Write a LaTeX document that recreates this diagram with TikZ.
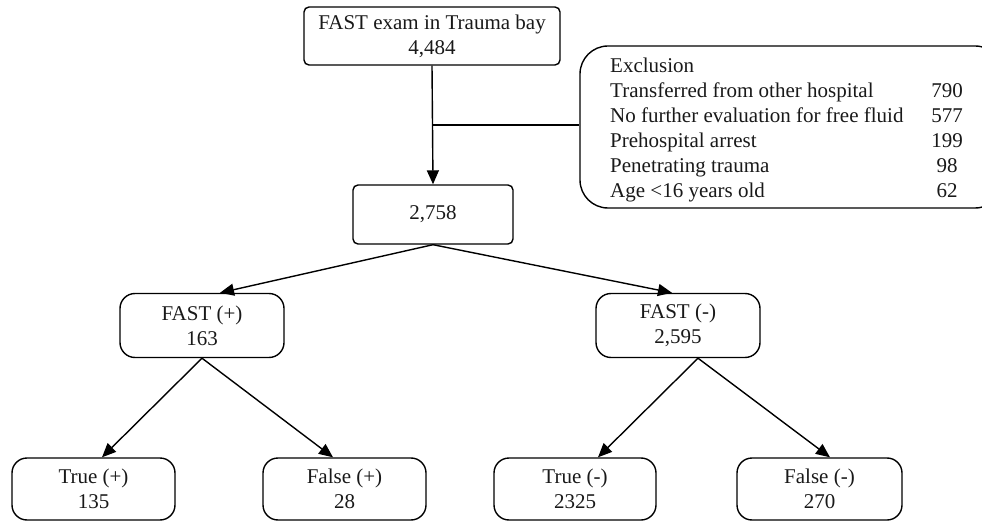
\documentclass[tikz,border=0pt]{standalone}
\usepackage{fontspec}
\setmainfont{Liberation Serif}
\usetikzlibrary{arrows.meta,calc}
\tikzset{
  txt/.style={font=\fontsize{21}{25}\selectfont, text=black!90},
  sbox/.style={draw, line width=1.4pt, rounded corners=5pt, align=center, txt, inner sep=0pt},
  rbox/.style={draw, line width=1.4pt, rounded corners=15pt, align=center, txt, inner sep=0pt},
  conn/.style={line width=1.4pt},
  arr/.style={conn, -{Triangle[length=14pt,width=12pt]}},
  exl/.style={txt, anchor=base west, inner sep=0pt},
  exn/.style={txt, anchor=base, inner sep=0pt}
}
\begin{document}
\begin{tikzpicture}[x=1pt,y=-1pt]
\useasboundingbox (0,0) rectangle (982,521);
% boxes
\node[sbox, minimum width=256pt, minimum height=58pt] (top) at (432,36) {FAST exam in Trauma bay\\4,484};
\node[sbox, minimum width=160pt, minimum height=59pt] (mid) at (433,214.5) {2,758};
\node[draw, line width=1.4pt, rounded corners=28pt, minimum width=423pt, minimum height=162pt, inner sep=0pt] (excl) at (791.5,127) {};
\node[rbox, minimum width=164pt, minimum height=64pt] (fp) at (202,325.5) {FAST (+)\\163};
\node[rbox, minimum width=164pt, minimum height=64pt] (fm) at (678,325.5) {FAST (-)\\2,595};
\node[rbox, minimum width=163pt, minimum height=62pt] (tp) at (93.5,489) {True (+)\\135};
\node[rbox, minimum width=163pt, minimum height=62pt] (fpp) at (344.5,489) {False (+)\\28};
\node[rbox, minimum width=162pt, minimum height=62pt] (tm) at (575,489) {True (-)\\2325};
\node[rbox, minimum width=165pt, minimum height=62pt] (fmm) at (819.5,489) {False (-)\\270};
% exclusion text
\node[exl] (e0) at (610,73) {Exclusion};
\node[exl] (e1) at (610,98) {Transferred from other hospital};
\node[exl] (e2) at (610,123) {No further evaluation for free fluid};
\node[exl] (e3) at (610,148) {Prehospital arrest};
\node[exl] (e4) at (610,173) {Penetrating trauma};
\node[exl] (e5) at (610,198) {Age <16 years old};
\node[exn] (n1) at (947,98) {790};
\node[exn] (n2) at (947,123) {577};
\node[exn] (n3) at (947,148) {199};
\node[exn] (n4) at (947,173) {98};
\node[exn] (n5) at (947,198) {62};
% connectors
\draw[arr] (top.south) -- (mid.north);
\coordinate (j) at ($(top.south)!0.5!(mid.north)$);
\draw[conn] (j |- 0,125) -- (excl.west |- 0,125);
\draw[arr] (mid.south) -- ([xshift=18pt]fp.north);
\draw[arr] (mid.south) -- ([xshift=-6pt]fm.north);
\draw[arr] (fp.south) -- ([xshift=8.5pt]tp.north);
\draw[arr] (fp.south) -- ([xshift=-11.5pt]fpp.north);
\draw[arr] ([xshift=20pt]fm.south) -- ([xshift=23pt]tm.north);
\draw[arr] ([xshift=20pt]fm.south) -- ([xshift=10.5pt]fmm.north);
\end{tikzpicture}
\end{document}
